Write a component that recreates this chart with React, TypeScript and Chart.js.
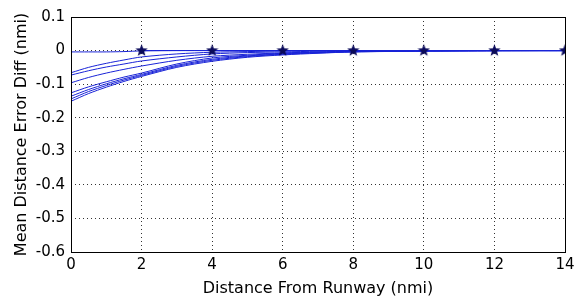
import React, { useEffect, useRef } from "react";
import { Chart, registerables } from "chart.js";

Chart.register(...registerables);

const xPoints = [0, 0.5, 1, 1.5, 2, 3, 4, 5, 6, 7, 8, 10, 12, 14];
const flatSeries = [-0.004, -0.004, -0.004, -0.003, -0.001, 0, 0, 0, 0, 0, 0, 0, 0, 0];
const curve1 = [-0.066, -0.05, -0.038, -0.028, -0.019, -0.01, -0.005, -0.003, -0.001, 0, 0, 0, 0, 0];
const curve2 = [-0.073, -0.06, -0.049, -0.04, -0.031, -0.019, -0.01, -0.006, -0.004, -0.002, -0.001, 0, 0, 0];
const curve3 = [-0.096, -0.08, -0.067, -0.056, -0.046, -0.029, -0.017, -0.011, -0.007, -0.004, -0.002, -0.001, 0, 0];
const curve4 = [-0.126, -0.108, -0.093, -0.079, -0.067, -0.04, -0.022, -0.014, -0.008, -0.005, -0.003, -0.001, 0, 0];
const curve5 = [-0.136, -0.116, -0.099, -0.084, -0.071, -0.044, -0.026, -0.016, -0.01, -0.006, -0.003, -0.001, 0, 0];
const curve6 = [-0.144, -0.122, -0.104, -0.088, -0.074, -0.047, -0.029, -0.018, -0.011, -0.007, -0.004, -0.001, 0, 0];
const curve7 = [-0.151, -0.128, -0.109, -0.092, -0.077, -0.05, -0.032, -0.02, -0.013, -0.008, -0.004, -0.002, -0.001, 0];

const starX = [2, 4, 6, 8, 10, 12, 14];
const starY = [0, 0, 0, 0, 0, 0, 0];

const xTitle = "Distance From Runway (nmi)";
const yTitle = "Mean Distance Error Diff (nmi)";

const LINE_COLOR = "rgb(25,35,215)";
const STAR_COLOR = "#0a0a5a";
const FONT = "'DejaVu Sans', sans-serif";

function makeStar(size: number): HTMLCanvasElement {
  const c = document.createElement("canvas");
  c.width = size;
  c.height = size;
  const ctx = c.getContext("2d")!;
  const cx = size / 2;
  const cy = size / 2;
  const outer = size / 2;
  const inner = outer * 0.42;
  ctx.beginPath();
  for (let i = 0; i < 10; i++) {
    const r = i % 2 === 0 ? outer : inner;
    const a = -Math.PI / 2 + (i * Math.PI) / 5;
    const px = cx + r * Math.cos(a);
    const py = cy + r * Math.sin(a);
    if (i === 0) ctx.moveTo(px, py);
    else ctx.lineTo(px, py);
  }
  ctx.closePath();
  ctx.fillStyle = STAR_COLOR;
  ctx.fill();
  return c;
}

const toPts = (ys: number[]) => xPoints.map((x, i) => ({ x, y: ys[i] }));

const framePlugin = {
  id: "frame",
  afterDatasetsDraw(chart: any) {
    const { ctx, chartArea } = chart;
    ctx.save();
    ctx.strokeStyle = "#000";
    ctx.lineWidth = 1;
    ctx.setLineDash([]);
    ctx.strokeRect(
      Math.round(chartArea.left) + 0.5,
      Math.round(chartArea.top) + 0.5,
      Math.round(chartArea.right - chartArea.left),
      Math.round(chartArea.bottom - chartArea.top)
    );
    ctx.restore();
  },
};

export default function App() {
  const ref = useRef<HTMLCanvasElement>(null);

  useEffect(() => {
    if (!ref.current) return;
    const star = makeStar(13);
    const curves = [flatSeries, curve1, curve2, curve3, curve4, curve5, curve6, curve7];
    const datasets: any[] = [
      {
        data: starX.map((x, i) => ({ x, y: starY[i] })),
        showLine: true,
        borderColor: LINE_COLOR,
        borderWidth: 1,
        pointStyle: star,
        pointRadius: 6,
      },
      ...curves.map((c) => ({
        data: toPts(c),
        showLine: true,
        borderColor: LINE_COLOR,
        borderWidth: 1,
        pointRadius: 0,
        tension: 0.3,
      })),
    ];

    const chart = new Chart(ref.current, {
      type: "scatter",
      data: { datasets },
      options: {
        animation: false,
        responsive: false,
        maintainAspectRatio: false,
        layout: { padding: { left: 0, top: 17, right: 0, bottom: 0 } },
        plugins: {
          legend: { display: false },
          tooltip: { enabled: false },
        },
        scales: {
          x: {
            type: "linear",
            min: 0,
            max: 14,
            afterFit: (s: any) => {
              s.height = 46;
              s.paddingRight = 9;
            },
            ticks: {
              stepSize: 2,
              color: "#000",
              padding: 4,
              font: { family: FONT, size: 15 },
            },
            grid: { color: "#333", lineWidth: 1, drawTicks: false },
            border: { display: false, dash: [1, 3] },
            title: {
              display: true,
              text: xTitle,
              color: "#000",
              font: { family: FONT, size: 16, lineHeight: 1.1 },
              padding: { top: 0, bottom: 0 },
            },
          },
          y: {
            type: "linear",
            min: -0.6,
            max: 0.1,
            afterFit: (s: any) => {
              s.width = 71;
            },
            ticks: {
              stepSize: 0.1,
              color: "#000",
              padding: 6,
              font: { family: FONT, size: 15 },
            },
            grid: { color: "#333", lineWidth: 1, drawTicks: false },
            border: { display: false, dash: [1, 3] },
            title: {
              display: true,
              text: yTitle,
              color: "#000",
              font: { family: FONT, size: 16, lineHeight: 1.2 },
              padding: { top: 12, bottom: 0 },
            },
          },
        },
      },
      plugins: [framePlugin],
    });
    return () => chart.destroy();
  }, []);

  return (
    <div style={{ position: "fixed", left: 0, top: 0, width: 574, height: 298, background: "#fff" }}>
      <canvas ref={ref} width={574} height={298} style={{ width: 574, height: 298 }} />
    </div>
  );
}
